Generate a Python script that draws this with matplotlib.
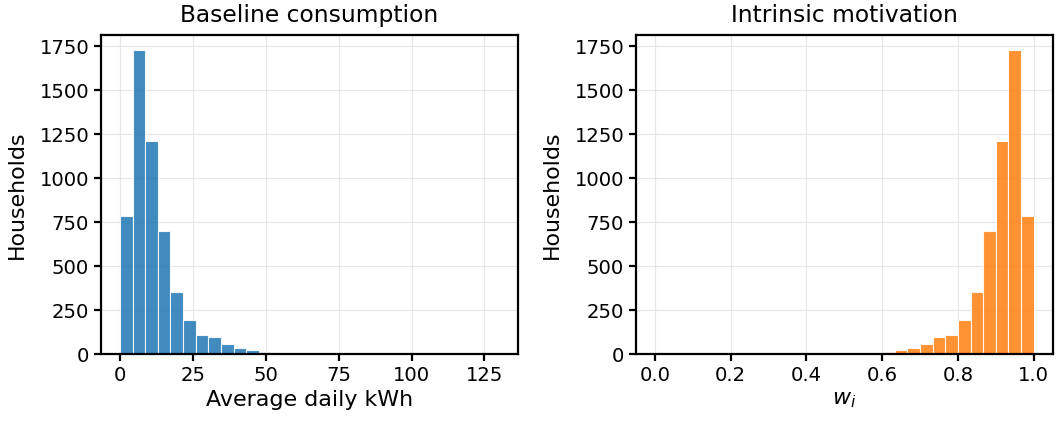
import numpy as np
import matplotlib
matplotlib.use("Agg")
import matplotlib.pyplot as plt

# histogram counts (30 equal bins)
kwh_edges = np.linspace(0, 130, 31)
kwh_counts = [783, 1728, 1210, 702, 351, 193, 108, 95, 57, 32,
              25, 11, 6, 6, 4, 2, 1, 1, 0, 1,
              0, 0, 0, 0, 0, 0, 0, 0, 0, 1]

w_edges = np.linspace(0, 1, 31)
w_counts = kwh_counts[::-1]  # w_i = 1 - kWh / max

plt.rcParams['font.family'] = 'DejaVu Sans'

fig = plt.figure(figsize=(10.63, 4.23), dpi=100)
ax1 = fig.add_axes([0.095, 0.1631, 0.3923, 0.7542])
ax2 = fig.add_axes([0.5983, 0.1631, 0.392, 0.7542])


def draw(ax, edges, counts, color, title, xlabel):
    centers = (edges[:-1] + edges[1:]) / 2
    ax.hist(centers, bins=edges, weights=counts, color=color, alpha=0.85,
            edgecolor='white', linewidth=0.8)
    ax.set_title(title, fontsize=16.8, pad=9)
    ax.set_xlabel(xlabel, fontsize=15.9)
    ax.set_ylabel("Households", fontsize=15.9, labelpad=9)
    ax.grid(True, color='#dddddd', alpha=0.7, linewidth=0.9)
    ax.set_axisbelow(True)
    ax.tick_params(labelsize=14.1, width=1.6, length=5)
    for s in ax.spines.values():
        s.set_linewidth(1.6)


draw(ax1, kwh_edges, kwh_counts, '#1f77b4', "Baseline consumption",
     "Average daily kWh")
draw(ax2, w_edges, w_counts, '#ff7f0e', "Intrinsic motivation", "$w_i$")
ax1.set_ylim(0, 1815)
ax2.set_ylim(0, 1815)

fig.savefig("out.png", dpi=100)
